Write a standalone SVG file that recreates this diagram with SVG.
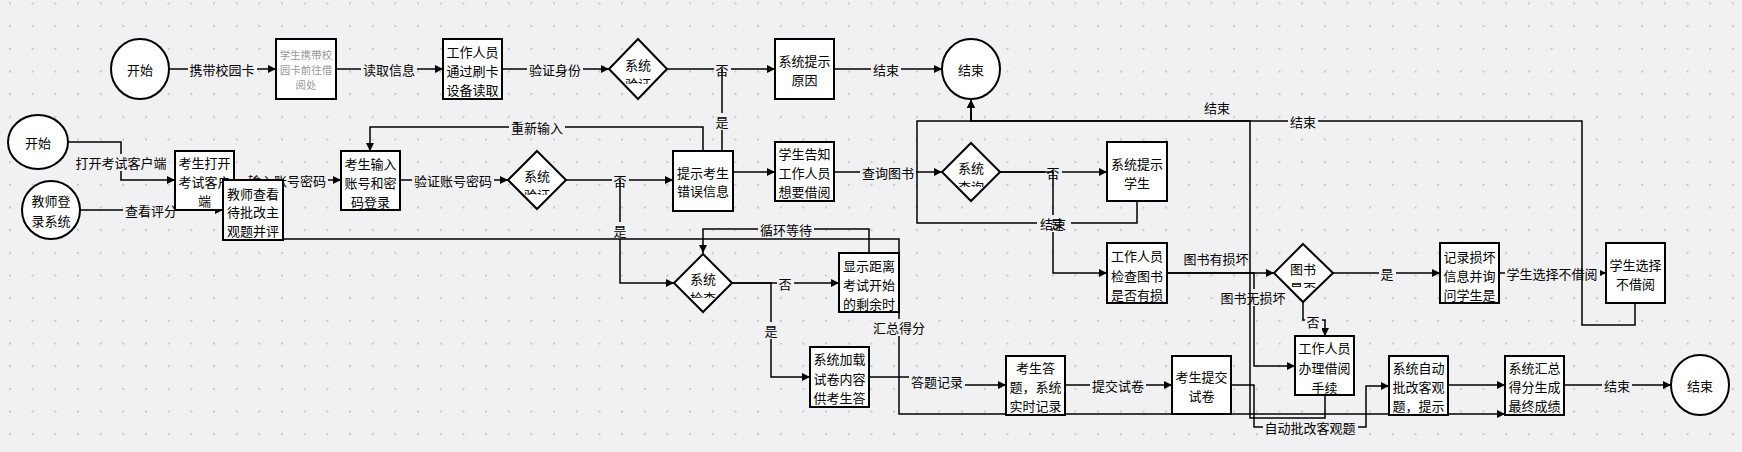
<svg xmlns="http://www.w3.org/2000/svg" width="1742" height="452" viewBox="0 0 1742 452">
<style>
  .n { fill: #ffffff; stroke: #000000; stroke-width: 2; }
  .t { font-family: "Noto Sans CJK SC", "Noto Sans", sans-serif; font-size: 13px; fill: #000000; text-anchor: middle; dominant-baseline: central; }
  .tg { font-family: "Noto Sans CJK SC", "Noto Sans", sans-serif; font-size: 10.5px; fill: #999999; text-anchor: middle; dominant-baseline: central; }
  .e { fill: none; stroke: #000000; stroke-width: 1.5; }
  .ea { fill: none; stroke: #000000; stroke-width: 1.5; marker-end: url(#arr); }
  .lb { fill: #f1f1f3; }
</style>
<defs>
  <marker id="arr" markerUnits="userSpaceOnUse" markerWidth="9" markerHeight="8" refX="8" refY="4" orient="auto">
    <path d="M0,0 L8,4 L0,8 z" fill="#000000"/>
  </marker>
  <pattern id="grid" patternUnits="userSpaceOnUse" x="9" y="2.5" width="22.67" height="22.67">
    <rect x="0" y="0" width="2" height="2" fill="#c9c9cd"/>
  </pattern>
  <clipPath id="c4"><rect x="622" y="54" width="32" height="30"/></clipPath>
  <clipPath id="c12"><rect x="521" y="165" width="32" height="30"/></clipPath>
  <clipPath id="c15"><rect x="955" y="157" width="32" height="30"/></clipPath>
  <clipPath id="c17"><rect x="687" y="268" width="32" height="30"/></clipPath>
  <clipPath id="c20"><rect x="1287" y="258" width="32" height="30"/></clipPath>
</defs>
<rect x="0" y="0" width="1742" height="452" fill="#f1f1f3"/>
<rect x="0" y="0" width="1742" height="452" fill="url(#grid)"/>

<g id="connectors">
  <!-- row 1 -->
  <path class="ea" d="M169,69 H276"/>
  <rect class="lb" x="188" y="61" width="69" height="17"/><text class="t" x="222" y="69">携带校园卡</text>
  <path class="ea" d="M336,69 H443"/>
  <rect class="lb" x="361" y="61" width="56" height="17"/><text class="t" x="389" y="69">读取信息</text>
  <path class="ea" d="M502,69 H609"/>
  <rect class="lb" x="527" y="61" width="56" height="17"/><text class="t" x="555" y="69">验证身份</text>
  <path class="ea" d="M667,69 H775"/>
  <rect class="lb" x="714" y="61" width="17" height="17"/><text class="t" x="722" y="69">否</text>
  <path class="e" d="M722,151 V69"/>
  <rect class="lb" x="714" y="113" width="17" height="17"/><text class="t" x="722" y="121">是</text>
  <path class="ea" d="M834,69 H942"/>
  <rect class="lb" x="871" y="61" width="30" height="17"/><text class="t" x="886" y="69">结束</text>

  <!-- row 2 left -->
  <path class="ea" d="M68,142 H121 V180 H175"/>
  <rect class="lb" x="74" y="154" width="95" height="17"/><text class="t" x="121" y="162">打开考试客户端</text>
  <path class="ea" d="M80,210 H223"/>
  <rect class="lb" x="123" y="202" width="56" height="17"/><text class="t" x="151" y="210">查看评分</text>
  <path class="ea" d="M234,180 H341"/>
  <rect class="lb" x="246" y="172" width="82" height="17"/><text class="t" x="287" y="180">输入账号密码</text>
  <path class="ea" d="M400,180 H508"/>
  <rect class="lb" x="412" y="172" width="82" height="17"/><text class="t" x="453" y="180">验证账号密码</text>
  <path class="ea" d="M703,151 V127 H370 V151"/>
  <rect class="lb" x="509" y="119" width="56" height="17"/><text class="t" x="537" y="127">重新输入</text>
  <path class="ea" d="M566,180 H673"/>
  <rect class="lb" x="612" y="172" width="17" height="17"/><text class="t" x="620" y="180">否</text>
  <path class="ea" d="M620,180 V283 H674"/>
  <rect class="lb" x="612" y="222" width="17" height="17"/><text class="t" x="620" y="230">是</text>
  <path class="ea" d="M733,172 H775"/>
  <path class="ea" d="M834,172 H942"/>
  <rect class="lb" x="860" y="164" width="56" height="17"/><text class="t" x="888" y="172">查询图书</text>
  <path class="ea" d="M1000,172 H1107"/>
  <rect class="lb" x="1045" y="164" width="17" height="17"/><text class="t" x="1053" y="172">否</text>
  <path class="ea" d="M1000,172 H1053 V273 H1107"/>
  <path class="ea" d="M1137,201 V223 H917 V121 H971 V100"/>
  <rect class="lb" x="1037" y="215" width="34" height="17"/>
  <text class="t" x="1053" y="223">结束</text>
  <text class="t" x="1057" y="223">是</text>

  <!-- row 3 -->
  <path class="ea" d="M869,253 V229 H703 V253"/>
  <rect class="lb" x="758" y="221" width="56" height="17"/><text class="t" x="786" y="229">循环等待</text>
  <path class="ea" d="M732,283 H839"/>
  <rect class="lb" x="777" y="275" width="17" height="17"/><text class="t" x="785" y="283">否</text>
  <path class="ea" d="M732,283 H771 V377 H810"/>
  <rect class="lb" x="763" y="322" width="17" height="17"/><text class="t" x="771" y="330">是</text>
  <path class="ea" d="M283,239 H899 V414 H1505"/>
  <rect class="lb" x="871" y="319" width="56" height="17"/><text class="t" x="899" y="327">汇总得分</text>

  <!-- row 4 -->
  <path class="ea" d="M869,377 H937 V385 H1006"/>
  <rect class="lb" x="909" y="373" width="56" height="17"/><text class="t" x="937" y="381">答题记录</text>
  <path class="ea" d="M1065,385 H1172"/>
  <rect class="lb" x="1090" y="377" width="56" height="17"/><text class="t" x="1118" y="385">提交试卷</text>
  <path class="ea" d="M1231,385 H1254 V427 H1366 V386 H1389"/>
  <rect class="lb" x="1263" y="419" width="95" height="17"/><text class="t" x="1310" y="427">自动批改客观题</text>

  <!-- right area -->
  <path class="ea" d="M1167,273 H1274"/>
  <rect class="lb" x="1182" y="250" width="69" height="17"/><text class="t" x="1216" y="258">图书有损坏</text>
  <path class="ea" d="M1167,273 H1254 V366 H1295"/>
  <rect class="lb" x="1219" y="289" width="69" height="17"/><text class="t" x="1253" y="297">图书无损坏</text>
  <path class="ea" d="M1333,273 H1440"/>
  <rect class="lb" x="1379" y="265" width="17" height="17"/><text class="t" x="1387" y="273">是</text>
  <path class="ea" d="M1303,302 V320 H1325 V336"/>
  <rect class="lb" x="1305" y="313" width="17" height="17"/><text class="t" x="1313" y="321">否</text>
  <path class="ea" d="M1499,273 H1606"/>
  <rect class="lb" x="1505" y="265" width="95" height="17"/><text class="t" x="1552" y="273">学生选择不借阅</text>
  <path class="ea" d="M1635,303 V325 H1582 V121 H971 V100"/>
  <rect class="lb" x="1288" y="113" width="30" height="17"/><text class="t" x="1303" y="121">结束</text>
  <path class="ea" d="M1325,395 V418 H1250 V121 H971 V100"/>
  <rect class="lb" x="1202" y="99" width="30" height="17"/><text class="t" x="1217" y="107">结束</text>
  <path class="ea" d="M1448,385 H1505"/>
  <path class="ea" d="M1564,385 H1671"/>
  <rect class="lb" x="1602" y="377" width="30" height="17"/><text class="t" x="1617" y="385">结束</text>
</g>

<g id="n1"><ellipse class="n" cx="140" cy="69" rx="29" ry="30"/><text class="t" x="140" y="69">开始</text></g>
<g id="n2"><rect class="n" x="276" y="39" width="60" height="60" stroke="#222222"/>
  <text class="tg" x="306" y="54">学生携带校</text><text class="tg" x="306" y="69">园卡前往借</text><text class="tg" x="306" y="84">阅处</text></g>
<g id="n3"><rect class="n" x="443" y="39" width="59" height="60"/>
  <text class="t" x="472.5" y="51">工作人员</text><text class="t" x="472.5" y="70">通过刷卡</text><text class="t" x="472.5" y="89">设备读取</text></g>
<g id="n4"><path class="n" d="M638,39 L667,69 L638,99 L609,69 Z"/>
  <g clip-path="url(#c4)"><text class="t" x="638" y="64">系统</text><text class="t" x="638" y="83">验证</text></g></g>
<g id="n5"><rect class="n" x="775" y="39" width="59" height="60"/>
  <text class="t" x="804.5" y="60">系统提示</text><text class="t" x="804.5" y="79">原因</text></g>
<g id="n6"><ellipse class="n" cx="971" cy="69" rx="29" ry="30"/><text class="t" x="971" y="69">结束</text></g>

<g id="n7"><ellipse class="n" cx="38" cy="142" rx="30" ry="27"/><text class="t" x="38" y="142">开始</text></g>
<g id="n8"><rect class="n" x="175" y="151" width="59" height="59"/>
  <text class="t" x="204.5" y="162">考生打开</text><text class="t" x="204.5" y="181">考试客户</text><text class="t" x="204.5" y="200">端</text></g>
<g id="n9"><ellipse class="n" cx="51" cy="210" rx="29" ry="29"/>
  <text class="t" x="51" y="200">教师登</text><text class="t" x="51" y="220">录系统</text></g>
<g id="n10"><rect class="n" x="223" y="180" width="60" height="60"/>
  <text class="t" x="253" y="193">教师查看</text><text class="t" x="253" y="211">待批改主</text><text class="t" x="253" y="230">观题并评</text></g>
<g id="n11"><rect class="n" x="341" y="151" width="59" height="59"/>
  <text class="t" x="370.5" y="163">考生输入</text><text class="t" x="370.5" y="182">账号和密</text><text class="t" x="370.5" y="201">码登录</text></g>
<g id="n12"><path class="n" d="M537,151 L566,180 L537,209 L508,180 Z"/>
  <g clip-path="url(#c12)"><text class="t" x="537" y="175">系统</text><text class="t" x="537" y="194">验证</text></g></g>
<g id="n13"><rect class="n" x="673" y="151" width="60" height="60"/>
  <text class="t" x="703" y="172">提示考生</text><text class="t" x="703" y="190">错误信息</text></g>
<g id="n14"><rect class="n" x="775" y="142" width="59" height="59"/>
  <text class="t" x="804.5" y="153">学生告知</text><text class="t" x="804.5" y="172">工作人员</text><text class="t" x="804.5" y="191">想要借阅</text></g>
<g id="n15"><path class="n" d="M971,143 L1000,172 L971,201 L942,172 Z"/>
  <g clip-path="url(#c15)"><text class="t" x="971" y="167">系统</text><text class="t" x="971" y="186">查询</text></g></g>
<g id="n16"><rect class="n" x="1107" y="142" width="60" height="59"/>
  <text class="t" x="1137" y="163">系统提示</text><text class="t" x="1137" y="182">学生</text></g>

<g id="n17"><path class="n" d="M703,254 L732,283 L703,312 L674,283 Z"/>
  <g clip-path="url(#c17)"><text class="t" x="703" y="278">系统</text><text class="t" x="703" y="297">检查</text></g></g>
<g id="n18"><rect class="n" x="839" y="253" width="60" height="59"/>
  <text class="t" x="869" y="265">显示距离</text><text class="t" x="869" y="284">考试开始</text><text class="t" x="869" y="303">的剩余时</text></g>
<g id="n19"><rect class="n" x="1107" y="243" width="60" height="60"/>
  <text class="t" x="1137" y="255">工作人员</text><text class="t" x="1137" y="275">检查图书</text><text class="t" x="1137" y="294">是否有损</text></g>
<g id="n20"><path class="n" d="M1303,244 L1333,273 L1303,302 L1274,273 Z"/>
  <g clip-path="url(#c20)"><text class="t" x="1303" y="268">图书</text><text class="t" x="1303" y="287">是否</text></g></g>
<g id="n21"><rect class="n" x="1440" y="243" width="59" height="60"/>
  <text class="t" x="1469.5" y="256">记录损坏</text><text class="t" x="1469.5" y="275">信息并询</text><text class="t" x="1469.5" y="294">问学生是</text></g>
<g id="n22"><rect class="n" x="1606" y="243" width="59" height="60"/>
  <text class="t" x="1635.5" y="264">学生选择</text><text class="t" x="1635.5" y="283">不借阅</text></g>

<g id="n23"><rect class="n" x="810" y="347" width="59" height="60"/>
  <text class="t" x="839.5" y="358">系统加载</text><text class="t" x="839.5" y="378">试卷内容</text><text class="t" x="839.5" y="397">供考生答</text></g>
<g id="n24"><rect class="n" x="1006" y="356" width="59" height="59"/>
  <text class="t" x="1035.5" y="367">考生答</text><text class="t" x="1035.5" y="386">题，系统</text><text class="t" x="1035.5" y="405">实时记录</text></g>
<g id="n25"><rect class="n" x="1172" y="356" width="59" height="58"/>
  <text class="t" x="1201.5" y="376">考生提交</text><text class="t" x="1201.5" y="395">试卷</text></g>
<g id="n26"><rect class="n" x="1295" y="336" width="59" height="59"/>
  <text class="t" x="1324.5" y="347">工作人员</text><text class="t" x="1324.5" y="367">办理借阅</text><text class="t" x="1324.5" y="387">手续</text></g>
<g id="n27"><rect class="n" x="1389" y="356" width="59" height="59"/>
  <text class="t" x="1418.5" y="367">系统自动</text><text class="t" x="1418.5" y="386">批改客观</text><text class="t" x="1418.5" y="405">题，提示</text></g>
<g id="n28"><rect class="n" x="1505" y="356" width="59" height="59"/>
  <text class="t" x="1534.5" y="367">系统汇总</text><text class="t" x="1534.5" y="386">得分生成</text><text class="t" x="1534.5" y="405">最终成绩</text></g>
<g id="n29"><ellipse class="n" cx="1700" cy="385" rx="29" ry="30"/><text class="t" x="1700" y="385">结束</text></g>
</svg>
